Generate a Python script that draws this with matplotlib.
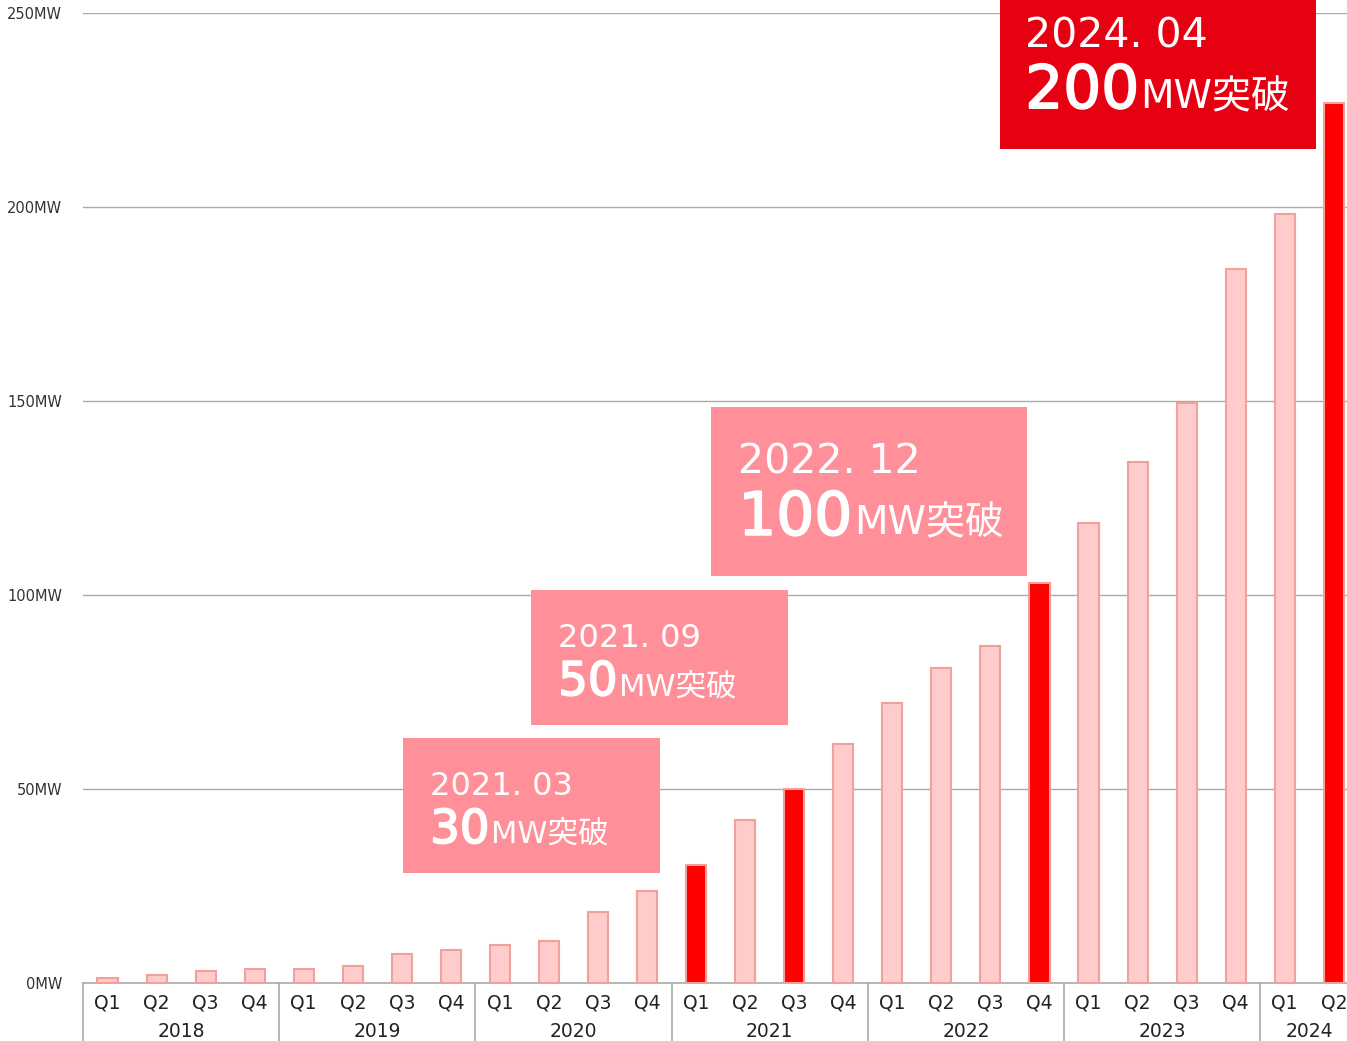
import numpy as np
import matplotlib
matplotlib.use("Agg")
import matplotlib.pyplot as plt
from matplotlib.patches import Rectangle
import matplotlib.transforms as mtransforms
import matplotlib.patheffects as pe

plt.rcParams['font.family'] = ['DejaVu Sans', 'Noto Sans CJK JP']

# data
quarters = ["Q1", "Q2", "Q3", "Q4"] * 6 + ["Q1", "Q2"]
years = ["2018", "2019", "2020", "2021", "2022", "2023", "2024"]
capacity = [1.3, 2.0, 3.0, 3.6, 3.6, 4.4, 7.5, 8.5, 9.8, 10.8, 18.3, 23.7,
            30.4, 42.0, 50.0, 61.6, 72.2, 81.2, 86.9, 103.1,
            118.6, 134.3, 149.5, 184.0, 198.2, 226.8]
milestone_idx = [12, 14, 19, 25]
yticks = [0, 50, 100, 150, 200, 250]
ytick_labels = ["0MW", "50MW", "100MW", "150MW", "200MW", "250MW"]

# milestone labels
ms_dates = ["2021. 03", "2021. 09", "2022. 12", "2024. 04"]
ms_values = ["30", "50", "100", "200"]

fig = plt.figure(figsize=(13.47, 10.41), dpi=100)
ax = fig.add_axes([83 / 1347, 58 / 1041, 1264 / 1347, 970 / 1041])

x = np.arange(len(capacity))
colors = ['#FF0000' if i in milestone_idx else '#FFCCCC' for i in x]
ax.bar(x, capacity, width=0.41, color=colors, edgecolor='#F2A09C', linewidth=1.5, zorder=3)

ax.set_xlim(-0.5, 25.27)
ax.set_ylim(0, 250)
ax.set_yticks(yticks)
ax.set_yticklabels(ytick_labels, fontsize=10.5, color='#333333')
ax.tick_params(axis='y', length=0, pad=15)
ax.set_xticks([])
ax.grid(axis='y', color='#AAAAAA', linewidth=1, zorder=0)
for s in ['top', 'right', 'left']:
    ax.spines[s].set_visible(False)
ax.spines['bottom'].set_color('#AAAAAA')
ax.spines['bottom'].set_linewidth(1.2)

# category axis: quarters, years and separators
trans = mtransforms.blended_transform_factory(ax.transData, ax.transAxes)
for i, q in enumerate(quarters):
    ax.text(i, -0.021, q, transform=trans, ha='center', va='center',
            fontsize=13.5, color='#222222')
starts = list(range(0, len(capacity), 4))
for k, yr in enumerate(years):
    s = starts[k]
    e = min(s + 4, len(capacity))
    ax.text((s + e - 1) / 2, -0.05, yr, transform=trans, ha='center', va='center',
            fontsize=13.5, color='#222222')
    ax.plot([s - 0.5, s - 0.5], [0, -0.07], transform=trans, color='#AAAAAA',
            linewidth=1.2, clip_on=False)

# milestone boxes (x0, x1, y0, y1) and text anchors (x, date baseline, value baseline)
boxes = [(6.03, 11.27, 28.4, 63.1), (8.64, 13.88, 66.5, 101.3),
         (12.31, 18.75, 104.9, 148.5), (18.2, 24.64, 215.0, 262.0)]
anchors = [(6.58, 48.5, 36.1), (9.19, 86.6, 74.2),
           (12.86, 131.4, 115.5), (18.71, 241.2, 225.5)]
box_colors = ['#FF8F99', '#FF8F99', '#FF8F99', '#E60012']
date_size = [23, 23, 29.5, 29.5]
unit_size = [22, 22, 28, 28]
big_size = [33.5, 33.5, 43, 43]

value_texts = []
for i in range(4):
    x0, x1, y0, y1 = boxes[i]
    ax.add_patch(Rectangle((x0, y0), x1 - x0, y1 - y0, facecolor=box_colors[i],
                           edgecolor='none', zorder=5, clip_on=False))
    tx, dy, vy = anchors[i]
    ax.text(tx, dy, ms_dates[i], fontsize=date_size[i], color='white',
            va='baseline', ha='left', zorder=6, clip_on=False)
    t = ax.text(tx, vy, ms_values[i], fontsize=big_size[i], color='white',
                va='baseline', ha='left', zorder=6, clip_on=False,
                path_effects=[pe.Stroke(linewidth=1.3, foreground='white'), pe.Normal()])
    value_texts.append(t)

fig.canvas.draw()
for i, t in enumerate(value_texts):
    bb = t.get_window_extent()
    xd = ax.transData.inverted().transform((bb.x1 + 1, 0))[0]
    ax.text(xd, anchors[i][2], "MW突破", fontsize=unit_size[i], color='white',
            va='baseline', ha='left', zorder=6, clip_on=False)

fig.savefig("out.png", dpi=100)
